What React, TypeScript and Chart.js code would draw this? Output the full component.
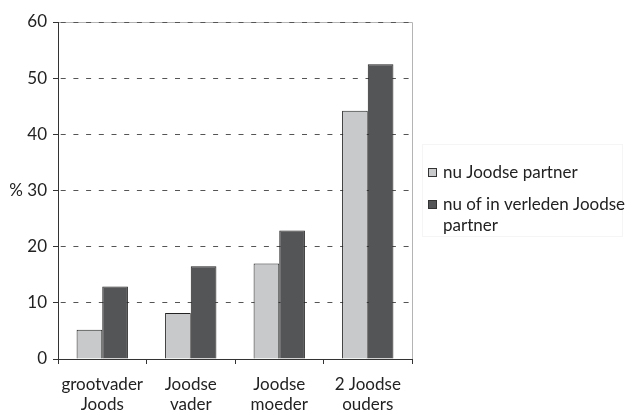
import React, { useEffect, useRef } from "react";
import { Chart, registerables } from "chart.js";

Chart.register(...registerables);

const categories: string[][] = [
  ["grootvader", "Joods"],
  ["Joodse", "vader"],
  ["Joodse", "moeder"],
  ["2 Joodse", "ouders"],
];
const seriesNames = ["nu Joodse partner", "nu of in verleden Joodse partner"];
const nuJoodsePartner = [5.2, 8.2, 17.0, 44.2];
const nuOfVerleden = [12.9, 16.5, 22.9, 52.5];
const yTicks = [0, 10, 20, 30, 40, 50, 60];

const FONT = "Lato, 'Open Sans', sans-serif";
const FS = 17;
const LIGHT = "#c8c9cb";
const DARK = "#545557";

const framePlugin = {
  id: "frame",
  beforeDraw(chart: any) {
    const { ctx, chartArea } = chart;
    ctx.save();
    ctx.strokeStyle = "#b4b4b4";
    ctx.lineWidth = 1;
    ctx.beginPath();
    ctx.moveTo(chartArea.left, chartArea.top + 0.5);
    ctx.lineTo(chartArea.right + 0.5, chartArea.top + 0.5);
    ctx.lineTo(chartArea.right + 0.5, chartArea.bottom);
    ctx.stroke();
    ctx.restore();
  },
};

const legendPlugin = {
  id: "customLegend",
  afterDraw(chart: any) {
    const { ctx } = chart;
    ctx.save();
    ctx.strokeStyle = "#f5f5f5";
    ctx.lineWidth = 1;
    ctx.strokeRect(422.5, 144.5, 200, 92);
    ctx.font = `${FS}px ${FONT}`;
    ctx.textBaseline = "middle";
    const textX = 443;
    const maxW = 634 - textX;
    const starts = [173, 205];
    chart.data.datasets.forEach((ds: any, i: number) => {
      const y = starts[i];
      ctx.fillStyle = ds.backgroundColor;
      ctx.fillRect(429, y - 4, 7, 8);
      ctx.strokeStyle = "#333";
      ctx.strokeRect(428.5, y - 4.5, 8, 8);
      const words = String(ds.label).split(" ");
      const lines: string[] = [];
      let cur = "";
      words.forEach((w) => {
        const test = cur ? cur + " " + w : w;
        if (ctx.measureText(test).width > maxW && cur) {
          lines.push(cur);
          cur = w;
        } else cur = test;
      });
      if (cur) lines.push(cur);
      ctx.fillStyle = "#222";
      lines.forEach((ln, j) => ctx.fillText(ln, textX, y + j * 21));
    });
    ctx.restore();
  },
};

export default function App() {
  const ref = useRef<HTMLCanvasElement | null>(null);
  useEffect(() => {
    document.body.style.margin = "0";
    if (!ref.current) return;
    const chart = new Chart(ref.current, {
      type: "bar",
      data: {
        labels: categories,
        datasets: [
          {
            label: seriesNames[0],
            data: nuJoodsePartner,
            backgroundColor: LIGHT,
            borderColor: "#222",
            borderWidth: 1,
            borderSkipped: "bottom",
          },
          {
            label: seriesNames[1],
            data: nuOfVerleden,
            backgroundColor: DARK,
            borderColor: "#222",
            borderWidth: 1,
            borderSkipped: "bottom",
          },
        ],
      },
      options: {
        responsive: false,
        animation: false,
        layout: { padding: { left: 0, right: 222, top: 22, bottom: 0 } },
        datasets: { bar: { categoryPercentage: 0.58, barPercentage: 1 } },
        plugins: { legend: { display: false }, tooltip: { enabled: false } },
        scales: {
          x: {
            offset: true,
            grid: {
              offset: true,
              drawOnChartArea: false,
              drawTicks: true,
              tickLength: 5,
              color: "#333",
            },
            border: { color: "#333", width: 1 },
            ticks: {
              color: "#222",
              font: { family: FONT, size: FS, lineHeight: 1.2 },
              padding: 10,
              maxRotation: 0,
              autoSkip: false,
            },
            afterFit(scale: any) {
              scale.height = 56;
            },
          },
          y: {
            min: 0,
            max: 60,
            afterBuildTicks(scale: any) {
              scale.ticks = yTicks.map((v) => ({ value: v }));
            },
            grid: {
              color: "#555",
              lineWidth: 1,
              tickBorderDash: [],
              tickLength: 5,
              tickColor: "#333",
            },
            border: { color: "#333", width: 1, dash: [5, 7.7], dashOffset: 11 },
            ticks: {
              color: "#222",
              font: { family: FONT, size: FS },
              padding: 6,
              callback: (v: any) => (v === 30 ? "% 30" : String(v)),
            },
            afterFit(scale: any) {
              scale.width = 58;
            },
          },
        },
      },
      plugins: [framePlugin, legendPlugin],
    });
    return () => chart.destroy();
  }, []);
  return (
    <div style={{ width: 634, height: 415 }}>
      <canvas ref={ref} width={634} height={415} style={{ display: "block" }} />
    </div>
  );
}
